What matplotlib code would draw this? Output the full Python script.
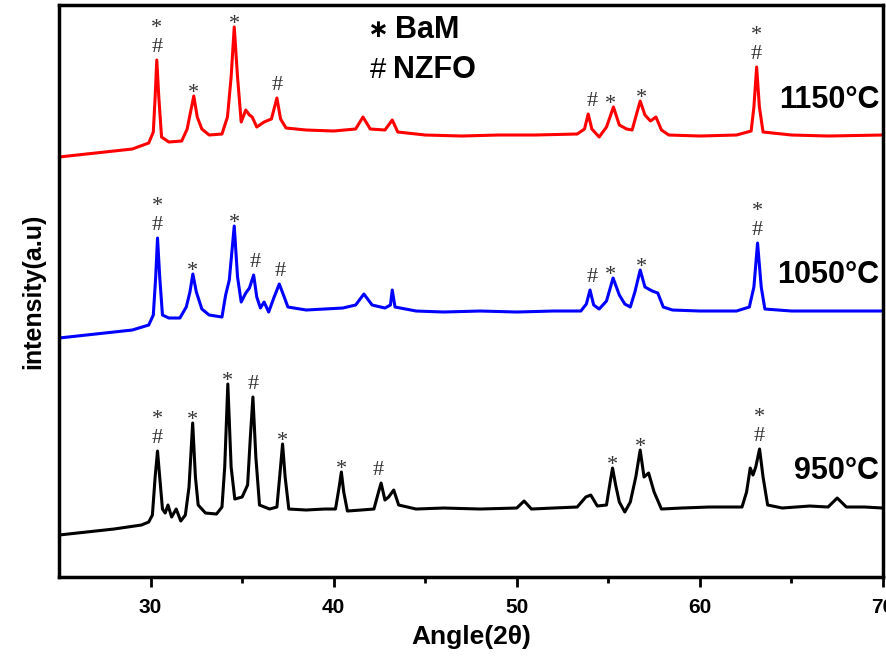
import numpy as np
import matplotlib
matplotlib.use("Agg")
import matplotlib.pyplot as plt

plt.rcParams['font.family'] = ['Liberation Sans', 'DejaVu Sans']

# XRD patterns (angle 2theta, intensity a.u., before stacking)
angle_950 = [25.0, 26.5, 28.0, 29.5, 29.9, 30.1, 30.25, 30.38, 30.5, 30.65, 30.8, 30.95, 31.15, 31.4,
             31.65, 31.9, 32.1, 32.3, 32.45, 32.6, 33.0, 33.6, 33.9, 34.05, 34.22, 34.4, 34.6, 35.0,
             35.3, 35.45, 35.59, 35.75, 35.95, 36.5, 36.9, 37.05, 37.21, 37.35, 37.55, 38.5, 39.5,
             40.1, 40.3, 40.42, 40.55, 40.75, 41.5, 42.2, 42.45, 42.59, 42.8, 43.0, 43.28, 43.55,
             44.5, 46.0, 48.0, 50.0, 50.4, 50.8, 52.0, 53.3, 53.77, 54.04, 54.4, 54.9, 55.1, 55.23,
             55.4, 55.6, 55.9, 56.2, 56.5, 56.74, 56.95, 57.2, 57.5, 57.9, 59.0, 60.5, 62.3, 62.55,
             62.75, 62.9, 63.05, 63.26, 63.45, 63.7, 64.5, 66.0, 67.0, 67.5, 68.0, 69.0, 70.0]
int_950 = [42, 45, 48, 52, 55, 62, 100, 126, 100, 68, 64, 72, 60, 68,
           56, 62, 90, 154, 100, 72, 64, 63, 70, 110, 193, 110, 78, 80,
           92, 140, 180, 120, 72, 68, 70, 100, 133, 100, 68, 67, 68,
           68, 90, 105, 85, 66, 67, 68, 85, 94, 77, 80, 87, 72,
           68, 69, 68, 69, 76, 68, 69, 70, 80, 82, 71, 72, 95, 109,
           92, 75, 65, 75, 100, 127, 100, 104, 85, 68, 69, 70, 70, 85,
           109, 102, 110, 128, 100, 72, 69, 71, 70, 79, 70, 70, 69]

angle_1050 = [25.0, 27.0, 29.0, 29.9, 30.15, 30.28, 30.38, 30.5, 30.65, 31.0, 31.6, 31.95, 32.15,
              32.31, 32.5, 32.8, 33.2, 33.9, 34.1, 34.3, 34.57, 34.75, 34.95, 35.2, 35.4, 35.63,
              35.8, 36.0, 36.2, 36.45, 36.75, 37.03, 37.3, 37.5, 38.5, 39.5, 40.5, 41.2, 41.65,
              42.1, 42.8, 43.1, 43.2, 43.35, 44.5, 46.0, 48.0, 50.0, 52.0, 53.5, 53.8, 54.0, 54.2,
              54.5, 54.9, 55.26, 55.6, 55.9, 56.2, 56.45, 56.74, 57.0, 57.4, 57.7, 58.0, 58.5,
              60.0, 62.0, 62.7, 62.95, 63.15, 63.35, 63.55, 65.0, 67.0, 70.0]
int_1050 = [19, 23, 27, 32, 42, 80, 119, 80, 42, 39, 39, 50, 65,
            83, 65, 48, 42, 40, 62, 77, 131, 80, 55, 64, 69, 82,
            60, 49, 55, 45, 60, 73, 60, 50, 47, 48, 49, 52, 63,
            52, 49, 52, 67, 50, 46, 45, 46, 45, 46, 46, 53, 67, 52,
            48, 56, 79, 62, 53, 50, 65, 87, 70, 66, 64, 50, 47,
            46, 46, 50, 70, 114, 70, 48, 46, 46, 46]

angle_1150 = [25.0, 27.0, 29.0, 29.9, 30.15, 30.25, 30.34, 30.45, 30.6, 31.0, 31.7, 32.0, 32.15,
              32.36, 32.55, 32.8, 33.2, 33.9, 34.2, 34.4, 34.57, 34.75, 34.95, 35.2, 35.4, 35.55,
              35.8, 36.2, 36.6, 36.9, 37.1, 37.4, 38.5, 40.0, 41.2, 41.6, 42.0, 42.8, 43.2, 43.5,
              45.0, 47.0, 49.0, 51.0, 53.3, 53.7, 53.9, 54.1, 54.5, 54.9, 55.28, 55.6, 56.0, 56.3,
              56.74, 57.0, 57.3, 57.6, 57.9, 58.3, 60.0, 62.0, 62.8, 62.95, 63.1, 63.25, 63.45,
              65.0, 67.0, 70.0]
int_1150 = [50, 54, 58, 64, 75, 110, 147, 110, 70, 65, 66, 78, 92,
            111, 90, 78, 72, 73, 90, 130, 180, 130, 85, 97, 92, 90,
            80, 85, 88, 109, 88, 79, 77, 76, 78, 90, 78, 77, 87, 75,
            72, 71, 72, 72, 73, 78, 93, 78, 70, 80, 100, 82, 78, 77,
            106, 92, 86, 90, 77, 72, 71, 72, 76, 100, 140, 100, 75,
            72, 71, 72]

temps = ["950°C", "1050°C", "1150°C"]
colors = ["black", "blue", "red"]

# peak marks (label angle, symbol)
marks_950 = [(30.38, "*\n#"), (32.3, "*"), (34.22, "*"), (35.59, "#"), (37.21, "*"), (40.42, "*"),
             (42.45, "#"), (55.23, "*"), (56.74, "*"), (63.26, "*\n#")]
marks_1050 = [(30.38, "*\n#"), (32.31, "*"), (34.57, "*"), (35.72, "#"), (37.1, "#"), (54.1, "#"),
              (55.1, "*"), (56.8, "*"), (63.15, "*\n#")]
marks_1150 = [(30.34, "*\n#"), (32.36, "*"), (34.57, "*"), (36.9, "#"), (54.1, "#"), (55.1, "*"),
              (56.8, "*"), (63.1, "*\n#")]

offsets = [0, 220, 370]

fig = plt.figure(figsize=(8.86, 6.59), dpi=100)
ax = fig.add_axes([0.0666, 0.1244, 0.93, 0.868])

patterns = [(angle_950, int_950, marks_950), (angle_1050, int_1050, marks_1050),
            (angle_1150, int_1150, marks_1150)]

for (ang, inten, marks), off, col, t in zip(patterns, offsets, colors, temps):
    ang = np.array(ang)
    y = np.array(inten) + off
    ax.plot(ang, y, color=col, lw=2.2)
    for a, sym in marks:
        sel = (ang > a - 0.35) & (ang < a + 0.35)
        top = y[sel].max()
        # a lone asterisk sits high in its line box, so pull it down a bit
        dy = -5 if sym == "*" else 2
        ax.annotate(sym, (a, top), xytext=(0, dy), textcoords="offset points",
                    ha="center", va="bottom", fontsize=16, color="#333333",
                    family="Liberation Serif", linespacing=1.0)
    base = np.interp(68.0, ang, y)
    ax.text(69.8, base + 36, t, ha="right", va="center", fontsize=22, fontweight="bold")

# marker legend
ax.text(0.386, 0.956, "∗", transform=ax.transAxes, ha="center", va="center",
        fontsize=18, family="DejaVu Sans", fontweight="bold")
ax.text(0.408, 0.956, "BaM", transform=ax.transAxes, ha="left", va="center",
        fontsize=22, fontweight="bold")
ax.text(0.387, 0.886, "#", transform=ax.transAxes, ha="center", va="center", fontsize=21)
ax.text(0.405, 0.886, "NZFO", transform=ax.transAxes, ha="left", va="center",
        fontsize=22, fontweight="bold")

ax.set_xlim(25, 70)
ax.set_ylim(0, 572)
ax.set_xticks([30, 40, 50, 60, 70])
ax.set_xticks([35, 45, 55, 65], minor=True)
ax.set_yticks([])
ax.tick_params(axis="x", which="major", direction="out", length=7, width=2, pad=8,
               labelsize=15)
ax.tick_params(axis="x", which="minor", direction="out", length=4, width=2)
for lbl in ax.get_xticklabels():
    lbl.set_fontweight("bold")
for s in ax.spines.values():
    s.set_linewidth(2.5)

ax.set_xlabel("Angle(2θ)", fontsize=19, fontweight="bold", labelpad=6)
ax.set_ylabel("intensity(a.u)", fontsize=18, fontweight="bold", labelpad=10)

fig.savefig("out.png", dpi=100)
